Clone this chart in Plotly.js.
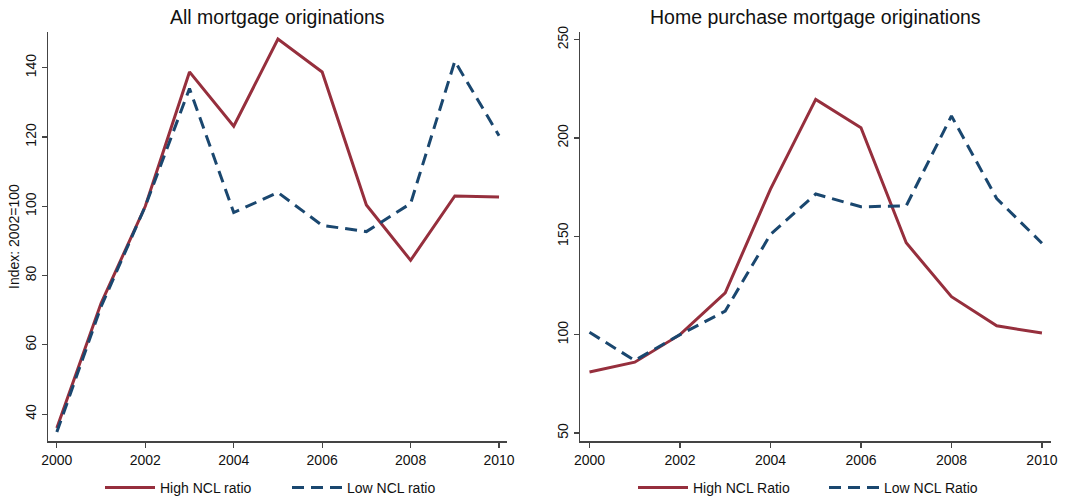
<!DOCTYPE html>
<html>
<head>
<meta charset="utf-8">
<script src="https://cdn.plot.ly/plotly-3.0.1.min.js"></script>
<style>html,body{margin:0;padding:0;background:#fff;}#chart{width:1083px;height:504px;}</style>
</head>
<body>
<div id="chart"></div>
<script>
var years = [2000, 2001, 2002, 2003, 2004, 2005, 2006, 2007, 2008, 2009, 2010];
var allHigh = [36, 72, 100, 138.8, 123.1, 148.3, 138.8, 100.4, 84.4, 103, 102.7];
var allLow = [34.8, 71, 100, 134, 98.2, 104, 94.5, 92.7, 100.8, 141.9, 120.4];
var purchHigh = [81, 86, 100, 121.3, 174, 219.6, 205.2, 146.7, 119.3, 104.5, 100.8];
var purchLow = [101.2, 86.9, 100, 112, 151, 171.5, 165, 165.5, 211.2, 169.2, 146.5];
var leftTitle = "All mortgage originations";
var rightTitle = "Home purchase mortgage originations";
var yTitleLeft = "Index: 2002=100";
var legendLeft = ["High NCL ratio", "Low NCL ratio"];
var legendRight = ["High NCL Ratio", "Low NCL Ratio"];
var xTicks = [2000, 2002, 2004, 2006, 2008, 2010];
var yTicksLeft = [40, 60, 80, 100, 120, 140];
var yTicksRight = [50, 100, 150, 200, 250];

var RED = "#962F3D", BLUE = "#1A476F";
var FONT = "Liberation Sans, Arial, sans-serif";

var traces = [
  {x: years, y: allHigh, type: "scatter", mode: "lines", name: legendLeft[0], line: {color: RED, width: 3}, xaxis: "x", yaxis: "y", legend: "legend"},
  {x: years, y: allLow, type: "scatter", mode: "lines", name: legendLeft[1], line: {color: BLUE, width: 3, dash: "12px,7px"}, xaxis: "x", yaxis: "y", legend: "legend"},
  {x: years, y: purchHigh, type: "scatter", mode: "lines", name: legendRight[0], line: {color: RED, width: 3}, xaxis: "x2", yaxis: "y2", legend: "legend2"},
  {x: years, y: purchLow, type: "scatter", mode: "lines", name: legendRight[1], line: {color: BLUE, width: 3, dash: "12px,7px"}, xaxis: "x2", yaxis: "y2", legend: "legend2"}
];

function xax(domain, anchor) {
  return {domain: domain, anchor: anchor, range: [1999.8, 2010.18], tickvals: xTicks, ticks: "outside", ticklen: 5, tickwidth: 1.2, tickcolor: "#444",
    showline: true, linecolor: "#444", linewidth: 1.3, showgrid: false, zeroline: false, automargin: false,
    tickfont: {family: FONT, size: 14, color: "#111"}};
}
function yax(domain, anchor, range, ticks) {
  return {domain: domain, anchor: anchor, range: range, tickvals: ticks, ticks: "outside", ticklen: 5, tickwidth: 1.2, tickcolor: "#444",
    showline: true, linecolor: "#444", linewidth: 1.3, showgrid: false, zeroline: false, automargin: false, tickangle: -90,
    tickfont: {family: FONT, size: 14, color: "#111"}};
}

var yd = [1 - 445/504, 1 - 32/504];
var layout = {
  width: 1083, height: 504,
  margin: {l: 0, r: 0, t: 0, b: 0},
  paper_bgcolor: "#fff", plot_bgcolor: "#fff",
  font: {family: FONT, color: "#111"},
  xaxis: xax([48/1083, 507/1083], "y"),
  yaxis: Object.assign(yax(yd, "x", [32.1, 150.4], yTicksLeft), {title: {text: yTitleLeft, font: {family: FONT, size: 14, color: "#111"}, standoff: 0}}),
  xaxis2: Object.assign(xax([580/1083, 1051/1083], "y2"), {range: [1999.79, 2010.2]}),
  yaxis2: yax(yd, "x2", [45.7, 254], yTicksRight),
  showlegend: true,
  legend: {orientation: "h", x: 100/1083, xanchor: "left", y: 0.024, yanchor: "middle", font: {family: FONT, size: 14, color: "#111"},
    itemwidth: 50, entrywidth: 122, entrywidthmode: "pixels", bgcolor: "rgba(0,0,0,0)", traceorder: "normal"},
  legend2: {orientation: "h", x: 633/1083, xanchor: "left", y: 0.024, yanchor: "middle", font: {family: FONT, size: 14, color: "#111"},
    itemwidth: 50, entrywidth: 126, entrywidthmode: "pixels", bgcolor: "rgba(0,0,0,0)", traceorder: "normal"},
  annotations: [
    {text: leftTitle, xref: "paper", yref: "paper", x: (48+507)/2/1083, y: 1 - 17/504, xanchor: "center", yanchor: "middle", showarrow: false, font: {family: FONT, size: 19.5, color: "#111"}},
    {text: rightTitle, xref: "paper", yref: "paper", x: (580+1051)/2/1083, y: 1 - 17/504, xanchor: "center", yanchor: "middle", showarrow: false, font: {family: FONT, size: 19.5, color: "#111"}}
  ]
};

Plotly.newPlot("chart", traces, layout, {displayModeBar: false, staticPlot: true});
</script>
</body>
</html>
